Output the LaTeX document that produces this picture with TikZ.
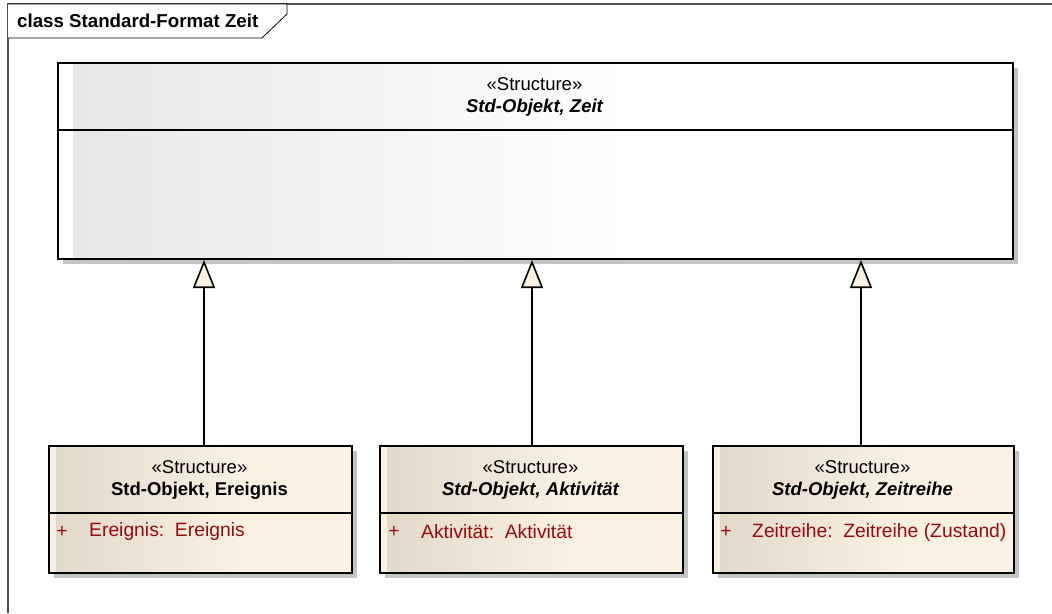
\documentclass[tikz,border=0pt]{standalone}
\usepackage{fontspec}
\setmainfont{Liberation Sans}
\usetikzlibrary{arrows.meta}

\definecolor{cream}{RGB}{251,241,227}
\definecolor{tan}{RGB}{226,217,202}
\definecolor{lgray}{RGB}{231,231,231}
\definecolor{shadowgray}{RGB}{196,196,196}
\definecolor{attrred}{RGB}{150,12,12}
\definecolor{framegray}{RGB}{80,80,80}

\tikzset{
  umlbox/.style={draw=black, line width=2pt, inner sep=0pt, anchor=north west},
  divider/.style={draw=black, line width=1.4pt},
  shadowbox/.style={fill=shadowgray},
  stereo/.style={font=\fontsize{18.5}{22}\selectfont, inner sep=0pt},
  cname/.style={font=\fontsize{18.5}{22}\selectfont\bfseries, inner sep=0pt},
  attrtext/.style={font=\fontsize{19.3}{22}\selectfont, text=attrred, inner sep=0pt, anchor=west},
  visib/.style={font=\fontsize{19.3}{22}\selectfont, text=attrred, inner sep=0pt},
  gen/.style={line width=1.6pt, -{Triangle[width=22pt, length=28pt, fill=cream]}},
}

\begin{document}
\begin{tikzpicture}[x=1pt, y=-1pt]
\useasboundingbox (0,0) rectangle (1052,613);
\fill[white] (0,0) rectangle (1052,613);

% diagram frame and its title tab
\draw[framegray, line width=1.5pt] (8,613) -- (8,4) -- (1052,4);
\draw[black, line width=0.8pt, fill=white] (8,4) -- (287,4) -- (287,14) -- (262,38) -- (8,38);
\node[font=\fontsize{18.7}{22}\selectfont\bfseries, anchor=west, inner sep=0pt] (title) at (17,21) {class Standard-Format Zeit};

% ---- general class: Std-Objekt, Zeit ----
\fill[shadowbox] (63,68) rectangle (1018,264);
\fill[white] (57,62) rectangle (1012,258);
\shade[left color=lgray, right color=white] (73,62) rectangle (630,258);
\node[umlbox, minimum width=955pt, minimum height=196pt] (zeit) at (57,62) {};
\draw[divider] (zeit.west |- 0,130) -- (zeit.east |- 0,130);
\node[stereo] (zeit-st) at (534.5,84) {«Structure»};
\node[cname] (zeit-nm) at (534.5,108) {\itshape Std-Objekt, Zeit};

% ---- specialised classes ----
% Ereignis
\fill[shadowbox] (54,451) rectangle (357,578);
\fill[cream] (48,445) rectangle (351,572);
\shade[left color=tan, right color=cream] (56,445) rectangle (240,572);
\node[umlbox, minimum width=303pt, minimum height=127pt] (ereignis) at (48,445) {};
\draw[divider] (ereignis.west |- 0,513) -- (ereignis.east |- 0,513);
\node[stereo] (ereignis-st) at (199.5,467) {«Structure»};
\node[cname] (ereignis-nm) at (199.5,491) {Std-Objekt, Ereignis};
\node[visib] (ereignis-v) at (62,532) {+};
\node[attrtext] (ereignis-a) at (89,532) {Ereignis:\ \ Ereignis};

% Aktivitaet
\fill[shadowbox] (385,451) rectangle (688,578);
\fill[cream] (379,445) rectangle (682,572);
\shade[left color=tan, right color=cream] (387,445) rectangle (571,572);
\node[umlbox, minimum width=303pt, minimum height=127pt] (aktiv) at (379,445) {};
\draw[divider] (aktiv.west |- 0,513) -- (aktiv.east |- 0,513);
\node[stereo] (aktiv-st) at (530.5,467) {«Structure»};
\node[cname] (aktiv-nm) at (530.5,491) {\itshape Std-Objekt, Aktivität};
\node[visib] (aktiv-v) at (394,532) {+};
\node[attrtext] (aktiv-a) at (421,532) {Aktivität:\ \ Aktivität};

% Zeitreihe
\fill[shadowbox] (718,451) rectangle (1019,578);
\fill[cream] (712,445) rectangle (1013,572);
\shade[left color=tan, right color=cream] (720,445) rectangle (904,572);
\node[umlbox, minimum width=301pt, minimum height=127pt] (reihe) at (712,445) {};
\draw[divider] (reihe.west |- 0,513) -- (reihe.east |- 0,513);
\node[stereo] (reihe-st) at (862.5,467) {«Structure»};
\node[cname] (reihe-nm) at (862.5,491) {\itshape Std-Objekt, Zeitreihe};
\node[visib] (reihe-v) at (726,532) {+};
\node[attrtext] (reihe-a) at (752,532) {Zeitreihe:\ \ Zeitreihe (Zustand)};

% ---- generalisations ----
\coordinate (g1) at (204,0);
\coordinate (g2) at (532,0);
\coordinate (g3) at (861,0);
\draw[gen] (ereignis.north -| g1) -- (zeit.south -| g1);
\draw[gen] (aktiv.north -| g2) -- (zeit.south -| g2);
\draw[gen] (reihe.north -| g3) -- (zeit.south -| g3);
\end{tikzpicture}
\end{document}
